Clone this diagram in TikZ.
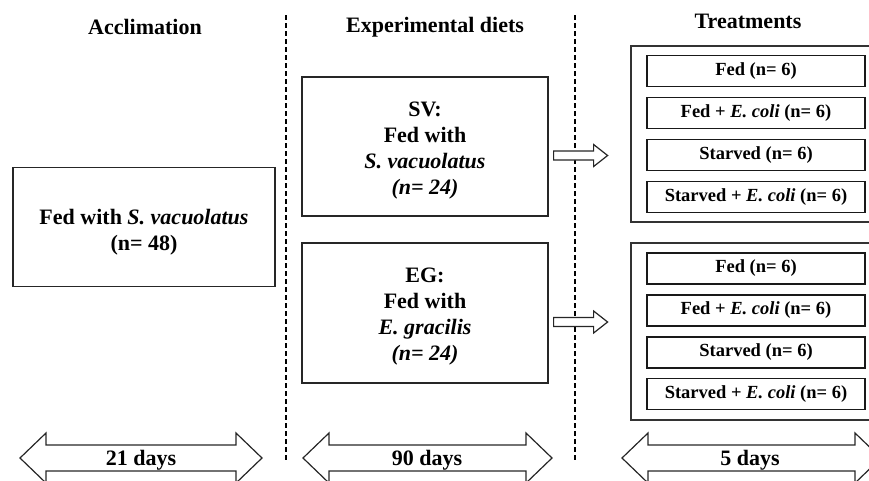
\documentclass[tikz,border=0pt]{standalone}
\usepackage{fontspec}
\setmainfont{Liberation Serif}
\begin{document}
\begin{tikzpicture}[x=1pt,y=-1pt,
  box/.style={draw=black!85,line width=1.2pt,rectangle,inner sep=0pt},
  boxtext/.style={inner sep=0pt,align=center,font=\fontsize{22}{26}\selectfont\bfseries},
  item/.style={draw=black!90,line width=1.4pt,rectangle,inner sep=0pt,
    minimum width=218pt,minimum height=31pt,font=\fontsize{18.5}{20}\selectfont\bfseries},
  outer/.style={draw=black!80,line width=1.2pt,rectangle,inner sep=0pt},
  title/.style={font=\fontsize{22}{24}\selectfont\bfseries,inner sep=0pt},
  days/.style={font=\fontsize{22}{24}\selectfont\bfseries,inner sep=0pt},
  divider/.style={line width=2pt,dash pattern=on 5pt off 3pt},
  openarrow/.style={draw=black!85,line width=1.2pt,fill=white,line join=miter},
]
\useasboundingbox (0,0) rectangle (869,480);
\clip (0,0) rectangle (869,480);

% titles
\node[title] (t1) at (145,27) {Acclimation};
\node[title] (t2) at (435,27) {Experimental diets};
\node[title] (t3) at (748,21) {Treatments};

% dividers
\coordinate (d1a) at (286,15); \coordinate (d1b) at (286,462);
\coordinate (d2a) at (575,15); \coordinate (d2b) at (575,462);
\draw[divider] (d1a) -- (d1b);
\draw[divider] (d2a) -- (d2b);

% acclimation box
\node[box,minimum width=262pt,minimum height=119pt] (acc) at (144,227) {};
\node[boxtext] (acctext) at ([yshift=-5pt]acc.center)
  {Fed with \textit{S. vacuolatus}\\(n= 48)};

% diet boxes
\node[box,minimum width=246pt,minimum height=139pt] (sv) at (425,146.5) {};
\node[boxtext] (svtext) at ([yshift=-4pt]sv.center)
  {SV:\\Fed with\\\textit{S. vacuolatus}\\\textit{(n= 24)}};
\node[box,minimum width=246pt,minimum height=140pt] (eg) at (425,313) {};
\node[boxtext] (egtext) at ([yshift=-4pt]eg.center)
  {EG:\\Fed with\\\textit{E. gracilis}\\\textit{(n= 24)}};

% treatment groups
\node[outer,minimum width=241pt,minimum height=176pt] (ta) at (751.5,134) {};
\node[outer,minimum width=241pt,minimum height=177pt] (tb) at (751.5,331.5) {};

\node[item] (a1) at (756,71) {Fed (n= 6)};
\node[item] (a2) at (756,113) {Fed + \textit{E. coli} (n= 6)};
\node[item] (a3) at (756,155) {Starved (n= 6)};
\node[item] (a4) at (756,197) {Starved + \textit{E. coli} (n= 6)};

\node[item] (b1) at (756,268.5) {Fed (n= 6)};
\node[item] (b2) at (756,310.5) {Fed + \textit{E. coli} (n= 6)};
\node[item] (b3) at (756,352.5) {Starved (n= 6)};
\node[item] (b4) at (756,394) {Starved + \textit{E. coli} (n= 6)};

% open arrows from diet boxes to treatment groups
\foreach \src in {sv,eg}{
  \draw[openarrow] ([xshift=5pt,yshift=-4.5pt]\src.east) -- ++(40,0) -- ++(0,-6.5)
     -- ++(14,11) -- ++(-14,11) -- ++(0,-6.5) -- ++(-40,0) -- cycle;
}

% duration arrows
\node[days] (p1) at (141,460) {21 days};
\node[days] (p2) at (427,460) {90 days};
\node[days] (p3) at (750,460) {5 days};

\foreach \n/\xl/\xr in {p1/20/262, p2/303/552, p3/622/881}{
  \draw[openarrow,fill=none] (\xl,458) -- ++(26,-25) -- ++(0,12) -- (\xr-26,445)
     -- ++(0,-12) -- (\xr,458) -- ++(-26,25) -- ++(0,-12) -- (\xl+26,471)
     -- ++(0,12) -- cycle;
}
\end{tikzpicture}
\end{document}
